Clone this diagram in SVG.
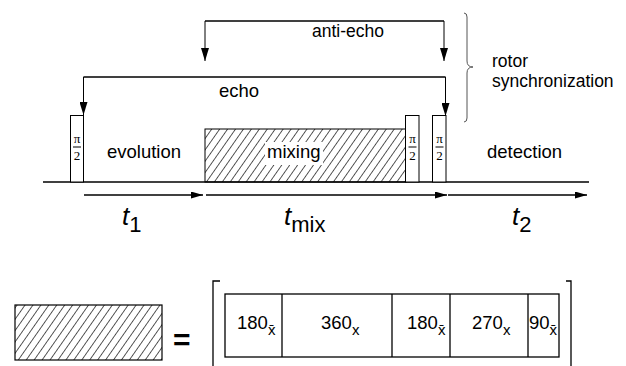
<svg xmlns="http://www.w3.org/2000/svg" width="626" height="366" viewBox="0 0 626 366">
<style>
.ln{fill:none;stroke:#000;stroke-width:1.3}
.thin{fill:none;stroke:#000;stroke-width:1}
.pulse{fill:#fff;stroke:#000;stroke-width:1}
.lbl{font-family:"Liberation Sans",Arial,sans-serif;font-size:18.5px;fill:#000}
.pi{font-family:"Liberation Serif","Times New Roman",serif;font-size:13px;fill:#000;text-anchor:middle}
.tv{font-family:"Liberation Sans",Arial,sans-serif;font-size:26px;font-style:italic;fill:#000}
.sub{font-family:"Liberation Sans",Arial,sans-serif;font-size:22px;font-style:normal;fill:#000}
.num{font-family:"Liberation Sans",Arial,sans-serif;font-size:18.5px;fill:#000}
.nsub{font-size:15px}
</style>
<defs>
<pattern id="hatch" patternUnits="userSpaceOnUse" width="6.5" height="7" patternTransform="rotate(35)">
<line x1="0" y1="0" x2="0" y2="7" stroke="#000" stroke-width="1.3"/>
</pattern>
<marker id="ahd" markerWidth="14" markerHeight="8" refX="13" refY="4" orient="auto" markerUnits="userSpaceOnUse">
<path d="M0,0 L13,4 L0,8 Z" fill="#000"/>
</marker>
<marker id="ahs" markerWidth="13" markerHeight="7" refX="12" refY="3.5" orient="auto" markerUnits="userSpaceOnUse">
<path d="M0,0 L12,3.5 L0,7 Z" fill="#000"/>
</marker>
</defs>
<rect width="626" height="366" fill="#fff"/>

<g id="baseline">
<line class="ln" x1="43" y1="182" x2="589" y2="182"/>
</g>

<g id="mixing">
<rect x="205" y="129" width="201" height="53" fill="url(#hatch)" stroke="#000" stroke-width="1"/>
<rect x="265" y="142" width="58" height="23" fill="#fff"/>
<text class="lbl" x="267" y="158">mixing</text>
</g>

<g id="pulse1">
<rect class="pulse" x="70.5" y="115.5" width="13" height="66.5"/>
<text class="pi" x="77" y="143">π</text>
<line class="thin" x1="73" y1="147" x2="81" y2="147"/>
<text class="pi" x="77" y="160">2</text>
</g>
<g id="pulse2">
<rect class="pulse" x="405.5" y="115.5" width="13.5" height="66.5"/>
<text class="pi" x="412.5" y="143">π</text>
<line class="thin" x1="408.5" y1="147" x2="416.5" y2="147"/>
<text class="pi" x="412.5" y="160">2</text>
</g>
<g id="pulse3">
<rect class="pulse" x="432.5" y="115.5" width="13.5" height="66.5"/>
<text class="pi" x="439.5" y="143">π</text>
<line class="thin" x1="435.5" y1="147" x2="443.5" y2="147"/>
<text class="pi" x="439.5" y="160">2</text>
</g>

<g id="evolution"><text class="lbl" x="107" y="158">evolution</text></g>
<g id="detection"><text class="lbl" x="487" y="158">detection</text></g>

<g id="connectors">
<path class="thin" d="M205,21 L444,21 L444,61" marker-end="url(#ahd)"/>
<path class="thin" d="M444,21 L205,21 L205,61" marker-end="url(#ahd)"/>
<path class="thin" d="M83.5,77 L445.5,77 L445.5,116" marker-end="url(#ahd)"/>
<path class="thin" d="M445.5,77 L83.5,77 L83.5,115" marker-end="url(#ahd)"/>
<line class="ln" x1="84" y1="195" x2="203" y2="195" marker-end="url(#ahs)"/>
<line class="ln" x1="206" y1="195" x2="447" y2="195" marker-end="url(#ahs)"/>
<line class="ln" x1="448" y1="195" x2="587" y2="195" marker-end="url(#ahs)"/>
</g>

<g id="labels">
<text class="lbl" x="312" y="37" style="font-size:17.5px">anti-echo</text>
<text class="lbl" x="219" y="97">echo</text>
<text class="lbl" x="492" y="67" style="font-size:17.5px">rotor</text>
<text class="lbl" x="492" y="87" style="font-size:17.5px">synchronization</text>
<path d="M464,13 Q467,13 467,17 L467,61 Q467,67 473,67 Q467,67 467,73 L467,118 Q467,122 464,122" fill="none" stroke="#555" stroke-width="1"/>
</g>

<g id="times">
<text class="tv" x="122" y="225">t<tspan class="sub" dy="7">1</tspan></text>
<text class="tv" x="284" y="225">t<tspan class="sub" dy="7">mix</tspan></text>
<text class="tv" x="512" y="225">t<tspan class="sub" dy="7">2</tspan></text>
</g>

<g id="legend">
<rect x="15" y="305" width="147" height="55" fill="url(#hatch)" stroke="#000" stroke-width="1.2"/>
<text x="173" y="350" style="font-family:'Liberation Sans',Arial,sans-serif;font-size:30px;font-weight:bold">=</text>
<path class="ln" d="M220,281 L213,281 L213,366"/>
<path class="ln" d="M566,281 L571,281 L571,366"/>
<rect class="ln" x="225" y="294" width="334" height="63"/>
<line class="ln" x1="282" y1="294" x2="282" y2="357"/>
<line class="ln" x1="392" y1="294" x2="392" y2="357"/>
<line class="ln" x1="450" y1="294" x2="450" y2="357"/>
<line class="ln" x1="528" y1="294" x2="528" y2="357"/>
<text class="num" x="237" y="329">180<tspan class="nsub" dy="6">x̄</tspan></text>
<text class="num" x="321" y="329">360<tspan class="nsub" dy="6">x</tspan></text>
<text class="num" x="407" y="329">180<tspan class="nsub" dy="6">x̄</tspan></text>
<text class="num" x="472" y="329">270<tspan class="nsub" dy="6">x</tspan></text>
<text class="num" x="529" y="329">90<tspan class="nsub" dy="6">x̄</tspan></text>
</g>
</svg>
